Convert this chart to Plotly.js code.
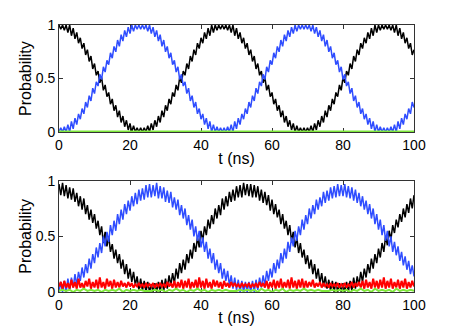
<!DOCTYPE html>
<html>
<head>
<meta charset="utf-8">
<script src="https://cdn.plot.ly/plotly-3.0.1.min.js"></script>
<style>
  html, body { margin: 0; padding: 0; background: #fff; }
  #plot { width: 457px; height: 329px; }
</style>
</head>
<body>
<div id="plot"></div>
<script>
// time step between samples (ns), values every 0.5 ns
var dt = 0.5;

// upper panel: populations, sampled every 0.5 ns from t = 0
var topBlack = [
  1.00,0.96,1.00,0.95,1.00,0.93,1.00,0.90,0.97,0.87,
  0.93,0.83,0.88,0.78,0.83,0.72,0.77,0.66,0.71,0.59,
  0.64,0.53,0.57,0.46,0.51,0.39,0.44,0.33,0.37,0.26,
  0.31,0.20,0.25,0.14,0.20,0.09,0.15,0.05,0.11,0.02,
  0.08,0.00,0.06,0.00,0.04,0.00,0.04,0.00,0.04,0.00,
  0.06,0.00,0.08,0.02,0.11,0.05,0.15,0.09,0.20,0.14,
  0.25,0.20,0.31,0.26,0.37,0.33,0.44,0.39,0.51,0.46,
  0.57,0.53,0.64,0.59,0.71,0.66,0.77,0.72,0.83,0.78,
  0.88,0.83,0.93,0.87,0.97,0.90,1.00,0.93,1.00,0.95,
  1.00,0.96,1.00,0.96,1.00,0.95,1.00,0.93,1.00,0.90,
  0.97,0.87,0.93,0.83,0.88,0.78,0.83,0.72,0.77,0.66,
  0.71,0.59,0.64,0.53,0.57,0.46,0.51,0.39,0.44,0.33,
  0.37,0.26,0.31,0.20,0.25,0.14,0.20,0.09,0.15,0.05,
  0.11,0.02,0.08,0.00,0.06,0.00,0.04,0.00,0.04,0.00,
  0.04,0.00,0.06,0.00,0.08,0.02,0.11,0.05,0.15,0.09,
  0.20,0.14,0.25,0.20,0.31,0.26,0.37,0.33,0.44,0.39,
  0.51,0.46,0.57,0.53,0.64,0.59,0.71,0.66,0.77,0.72,
  0.83,0.78,0.88,0.83,0.93,0.87,0.97,0.90,1.00,0.93,
  1.00,0.95,1.00,0.96,1.00,0.96,1.00,0.95,1.00,0.93,
  1.00,0.90,0.97,0.87,0.93,0.83,0.88,0.78,0.83,0.72,
  0.77
];
var topBlue = [
  0.00,0.04,0.00,0.05,0.00,0.07,0.00,0.10,0.03,0.13,
  0.07,0.17,0.12,0.22,0.17,0.28,0.23,0.34,0.29,0.41,
  0.36,0.47,0.43,0.54,0.49,0.61,0.56,0.67,0.63,0.74,
  0.69,0.80,0.75,0.86,0.80,0.91,0.85,0.95,0.89,0.98,
  0.92,1.00,0.94,1.00,0.96,1.00,0.96,1.00,0.96,1.00,
  0.94,1.00,0.92,0.98,0.89,0.95,0.85,0.91,0.80,0.86,
  0.75,0.80,0.69,0.74,0.63,0.67,0.56,0.61,0.49,0.54,
  0.43,0.47,0.36,0.41,0.29,0.34,0.23,0.28,0.17,0.22,
  0.12,0.17,0.07,0.13,0.03,0.10,0.00,0.07,0.00,0.05,
  0.00,0.04,0.00,0.04,0.00,0.05,0.00,0.07,0.00,0.10,
  0.03,0.13,0.07,0.17,0.12,0.22,0.17,0.28,0.23,0.34,
  0.29,0.41,0.36,0.47,0.43,0.54,0.49,0.61,0.56,0.67,
  0.63,0.74,0.69,0.80,0.75,0.86,0.80,0.91,0.85,0.95,
  0.89,0.98,0.92,1.00,0.94,1.00,0.96,1.00,0.96,1.00,
  0.96,1.00,0.94,1.00,0.92,0.98,0.89,0.95,0.85,0.91,
  0.80,0.86,0.75,0.80,0.69,0.74,0.63,0.67,0.56,0.61,
  0.49,0.54,0.43,0.47,0.36,0.41,0.29,0.34,0.23,0.28,
  0.17,0.22,0.12,0.17,0.07,0.13,0.03,0.10,0.00,0.07,
  0.00,0.05,0.00,0.04,0.00,0.04,0.00,0.05,0.00,0.07,
  0.00,0.10,0.03,0.13,0.07,0.17,0.12,0.22,0.17,0.28,
  0.23
];
var topGreen = [0, 0];   // flat at zero, start and end (t = 0, 100)

// lower panel, same sampling
var botBlack = [
  0.97,0.87,0.98,0.86,0.96,0.84,0.94,0.83,0.93,0.81,
  0.89,0.77,0.86,0.74,0.84,0.70,0.78,0.65,0.74,0.62,
  0.70,0.57,0.64,0.51,0.59,0.44,0.54,0.41,0.50,0.36,
  0.43,0.30,0.38,0.26,0.34,0.21,0.29,0.16,0.25,0.12,
  0.21,0.09,0.18,0.06,0.14,0.02,0.12,0.01,0.10,0.00,
  0.09,0.00,0.07,0.00,0.08,0.00,0.09,0.00,0.11,0.01,
  0.12,0.03,0.15,0.06,0.17,0.08,0.21,0.12,0.26,0.17,
  0.29,0.20,0.34,0.26,0.38,0.30,0.44,0.36,0.49,0.40,
  0.55,0.46,0.59,0.51,0.65,0.57,0.69,0.61,0.75,0.66,
  0.78,0.69,0.84,0.74,0.86,0.77,0.90,0.81,0.92,0.82,
  0.95,0.85,0.96,0.85,0.98,0.87,0.97,0.86,0.97,0.85,
  0.96,0.85,0.95,0.82,0.92,0.80,0.90,0.78,0.87,0.73,
  0.83,0.70,0.79,0.67,0.74,0.61,0.70,0.57,0.64,0.51,
  0.60,0.46,0.54,0.40,0.49,0.35,0.44,0.31,0.38,0.25,
  0.33,0.21,0.29,0.16,0.25,0.12,0.21,0.08,0.17,0.05,
  0.14,0.03,0.11,0.01,0.10,0.00,0.09,0.00,0.08,0.00,
  0.08,0.00,0.09,0.00,0.10,0.01,0.13,0.03,0.14,0.06,
  0.18,0.09,0.21,0.13,0.25,0.17,0.30,0.21,0.34,0.26,
  0.39,0.31,0.44,0.36,0.50,0.42,0.55,0.47,0.60,0.53,
  0.65,0.58,0.70,0.63,0.75,0.67,0.79,0.71,0.84,0.75,
  0.87
];
var botBlue = [
  0.00,0.09,0.00,0.10,0.00,0.12,0.02,0.13,0.04,0.16,
  0.06,0.18,0.10,0.22,0.13,0.25,0.17,0.30,0.21,0.34,
  0.26,0.40,0.31,0.44,0.35,0.50,0.41,0.54,0.45,0.60,
  0.51,0.64,0.55,0.70,0.61,0.74,0.65,0.79,0.70,0.82,
  0.73,0.86,0.77,0.89,0.79,0.92,0.82,0.93,0.83,0.96,
  0.85,0.97,0.85,0.96,0.86,0.98,0.84,0.95,0.84,0.94,
  0.81,0.91,0.80,0.90,0.76,0.85,0.74,0.83,0.69,0.78,
  0.66,0.75,0.60,0.69,0.56,0.65,0.50,0.59,0.46,0.55,
  0.40,0.49,0.36,0.45,0.30,0.39,0.26,0.35,0.20,0.29,
  0.17,0.26,0.12,0.21,0.10,0.19,0.06,0.15,0.03,0.13,
  0.02,0.11,0.00,0.10,0.00,0.09,0.00,0.09,0.00,0.10,
  0.00,0.11,0.02,0.13,0.04,0.15,0.06,0.19,0.10,0.21,
  0.13,0.26,0.17,0.29,0.21,0.35,0.26,0.39,0.30,0.45,
  0.36,0.49,0.41,0.55,0.46,0.59,0.51,0.65,0.56,0.69,
  0.61,0.75,0.66,0.78,0.70,0.83,0.74,0.85,0.77,0.90,
  0.80,0.91,0.82,0.94,0.84,0.95,0.85,0.97,0.86,0.96,
  0.86,0.97,0.85,0.95,0.84,0.94,0.82,0.92,0.80,0.89,
  0.77,0.86,0.74,0.82,0.70,0.79,0.66,0.75,0.61,0.70,
  0.56,0.65,0.51,0.60,0.46,0.55,0.41,0.50,0.36,0.45,
  0.33,0.41,0.28,0.36,0.24,0.32,0.20,0.28,0.16,0.24,
  0.14
];
var botRed = [
  0.05,0.09,0.03,0.10,0.04,0.08,0.03,0.11,0.04,0.09,
  0.03,0.12,0.04,0.08,0.03,0.10,0.05,0.12,0.03,0.09,
  0.04,0.11,0.03,0.13,0.04,0.09,0.03,0.12,0.05,0.10,
  0.03,0.11,0.04,0.09,0.04,0.10,0.05,0.08,0.04,0.09,
  0.05,0.08,0.04,0.07,0.05,0.08,0.05,0.07,0.04,0.08,
  0.05,0.07,0.05,0.08,0.04,0.07,0.05,0.08,0.05,0.07,
  0.04,0.09,0.05,0.08,0.04,0.10,0.03,0.09,0.04,0.11,
  0.03,0.10,0.04,0.12,0.03,0.09,0.04,0.11,0.03,0.13,
  0.04,0.10,0.03,0.12,0.04,0.09,0.03,0.11,0.05,0.10,
  0.04,0.09,0.03,0.10,0.05,0.08,0.04,0.09,0.05,0.08,
  0.05,0.07,0.04,0.08,0.05,0.07,0.05,0.08,0.04,0.07,
  0.05,0.08,0.04,0.09,0.05,0.08,0.04,0.10,0.03,0.09,
  0.04,0.11,0.03,0.10,0.04,0.12,0.03,0.09,0.04,0.11,
  0.03,0.13,0.04,0.10,0.03,0.11,0.04,0.12,0.03,0.10,
  0.04,0.09,0.05,0.11,0.04,0.08,0.05,0.09,0.04,0.08,
  0.05,0.07,0.04,0.08,0.05,0.07,0.05,0.08,0.04,0.07,
  0.05,0.08,0.04,0.07,0.05,0.09,0.04,0.08,0.05,0.09,
  0.04,0.10,0.03,0.11,0.04,0.09,0.03,0.12,0.04,0.10,
  0.03,0.11,0.04,0.13,0.03,0.10,0.04,0.12,0.03,0.09,
  0.04,0.11,0.03,0.10,0.04,0.12,0.03,0.09,0.04,0.10,
  0.05
];
// green leakage, read every 1 ns
var botGreen = [
  0.01,0.02,0.01,0.02,0.00,0.02,0.01,0.03,0.01,0.02,
  0.01,0.02,0.00,0.02,0.01,0.02,0.01,0.03,0.00,0.02,
  0.01,0.02,0.01,0.02,0.01,0.01,0.01,0.02,0.01,0.02,
  0.00,0.02,0.01,0.03,0.01,0.02,0.00,0.02,0.01,0.03,
  0.01,0.02,0.00,0.02,0.01,0.02,0.01,0.02,0.01,0.01,
  0.01,0.02,0.01,0.02,0.01,0.02,0.00,0.03,0.01,0.02,
  0.00,0.02,0.01,0.03,0.00,0.02,0.01,0.02,0.01,0.03,
  0.01,0.02,0.01,0.02,0.01,0.01,0.01,0.02,0.01,0.02,
  0.01,0.02,0.00,0.02,0.01,0.03,0.01,0.02,0.00,0.03,
  0.01,0.02,0.01,0.02,0.00,0.03,0.01,0.02,0.01,0.02,
  0.01
];

var xTicks = [0, 20, 40, 60, 80, 100];
var yTicks = [0, 0.5, 1];
var yTickText = ['0', '0.5', '1'];

var cBlack = '#000000', cBlue = '#2f4dff', cRed = '#ff0000', cGreen = '#7ee83a';

function line(y, step, color, w, xa, ya) {
  return {
    type: 'scatter', mode: 'lines',
    y: y, x0: 0, dx: step,
    line: {color: color, width: w},
    xaxis: xa, yaxis: ya,
    hoverinfo: 'skip'
  };
}

var data = [
  line(topBlack, dt, cBlack, 1.5, 'x', 'y'),
  line(topBlue, dt, cBlue, 1.5, 'x', 'y'),
  line(topGreen, 100, cGreen, 3, 'x', 'y'),
  line(botBlack, dt, cBlack, 1.5, 'x2', 'y2'),
  line(botBlue, dt, cBlue, 1.5, 'x2', 'y2'),
  line(botRed, dt, cRed, 2, 'x2', 'y2'),
  line(botGreen, 1, cGreen, 2, 'x2', 'y2')
];

function xAxis(anchor) {
  return {
    anchor: anchor, domain: [0, 1], range: [0, 100],
    tickvals: xTicks, ticks: 'inside', ticklen: 4, tickcolor: '#333',
    showline: true, linecolor: '#333', linewidth: 1, mirror: 'ticks',
    showgrid: false, zeroline: false, layer: 'below traces',
    tickfont: {size: 14},
    title: {text: 't (ns)', font: {size: 16}, standoff: 0}
  };
}
function yAxis(anchor, dom) {
  return {
    anchor: anchor, domain: dom, range: [0, 1],
    tickvals: yTicks, ticktext: yTickText,
    ticks: 'inside', ticklen: 4, tickcolor: '#333',
    showline: true, linecolor: '#333', linewidth: 1, mirror: 'ticks',
    showgrid: false, zeroline: false, layer: 'below traces',
    tickfont: {size: 14},
    title: {text: 'Probability', font: {size: 16}, standoff: 0}
  };
}

var layout = {
  width: 457, height: 329,
  margin: {l: 59, r: 43, t: 25, b: 37},
  paper_bgcolor: '#fff', plot_bgcolor: '#fff',
  showlegend: false,
  font: {family: '"Liberation Sans", Arial, sans-serif', size: 14, color: '#000'},
  xaxis: xAxis('y'),
  yaxis: yAxis('x', [0.599, 1]),
  xaxis2: xAxis('y2'),
  yaxis2: yAxis('x2', [0, 0.417])
};

Plotly.newPlot('plot', data, layout, {staticPlot: true, displayModeBar: false});
</script>
</body>
</html>
